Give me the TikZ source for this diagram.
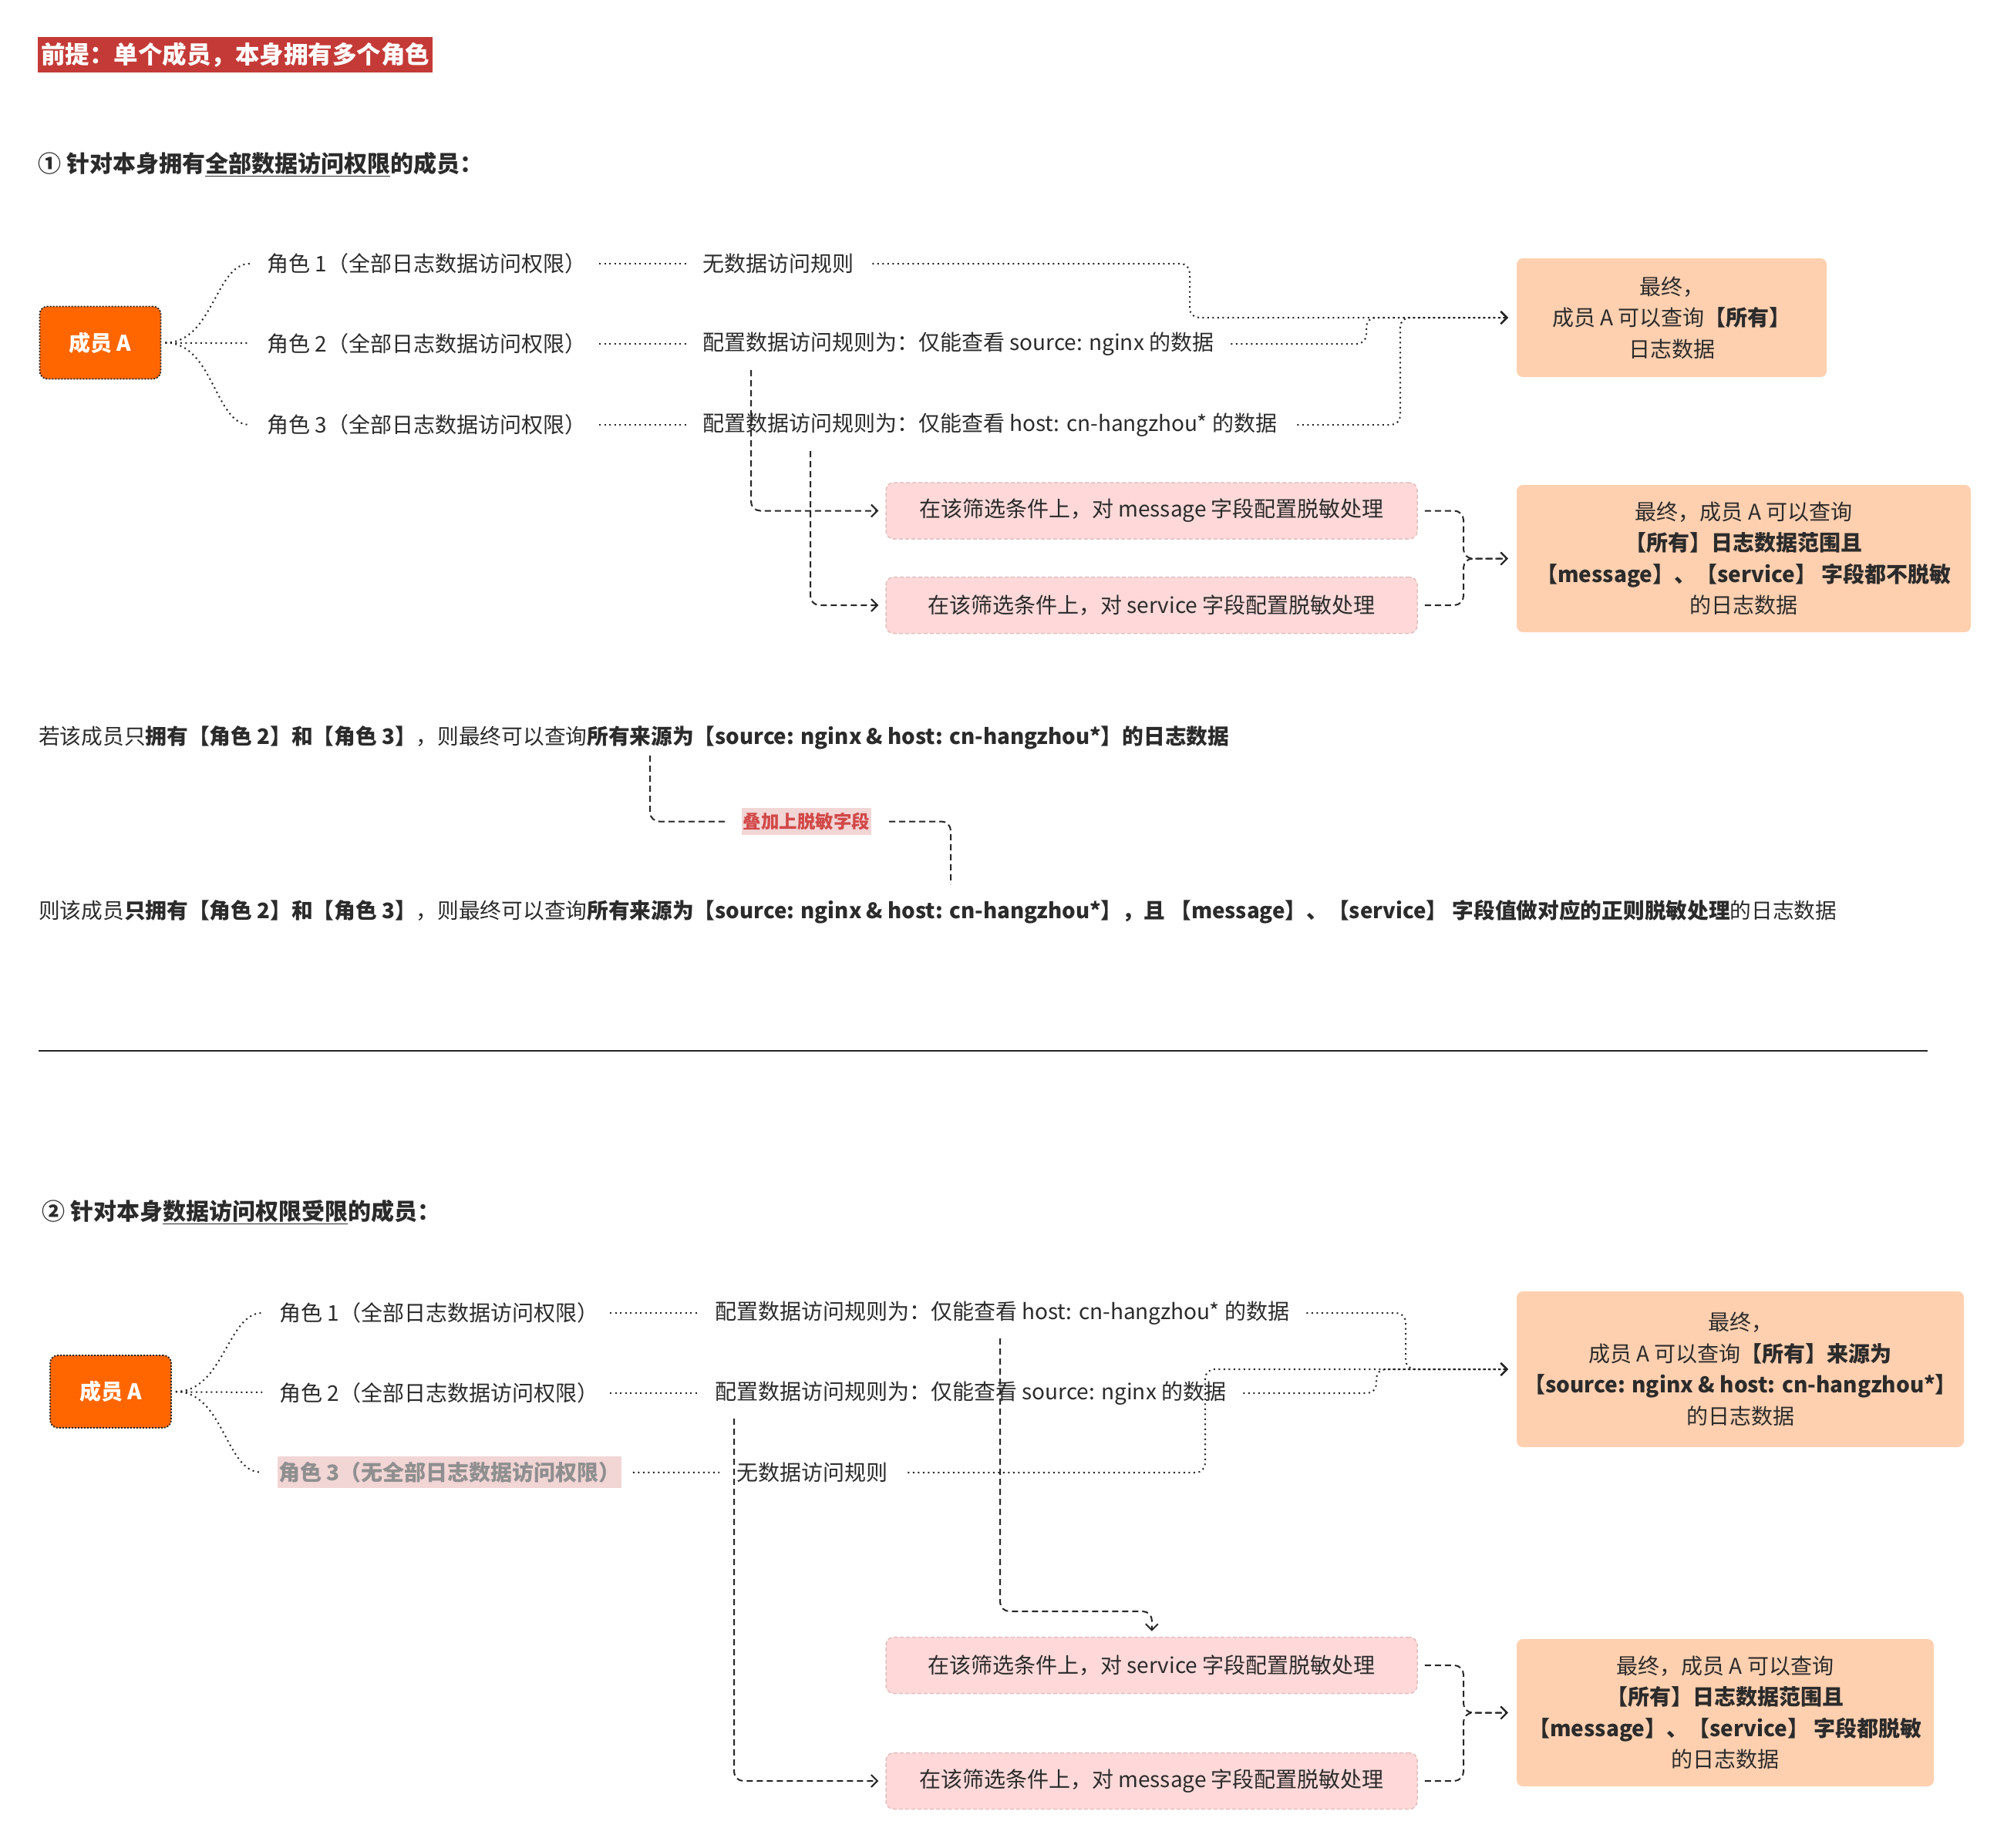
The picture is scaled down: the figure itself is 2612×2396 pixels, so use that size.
\documentclass[tikz,border=0pt]{standalone}
\usepackage{fontspec}
\setmainfont{Noto Sans CJK SC}
\usetikzlibrary{arrows.meta}
\definecolor{textc}{HTML}{2B2B2B}
\definecolor{linec}{HTML}{262626}
\definecolor{titlered}{HTML}{C43A37}
\definecolor{memberor}{HTML}{FF6600}
\definecolor{peach}{HTML}{FFD0B0}
\definecolor{pinkfill}{HTML}{FFD9D9}
\definecolor{pinkdraw}{HTML}{E2BFBF}
\definecolor{lblbg}{HTML}{F2D5D5}
\definecolor{lblfg}{HTML}{D24848}
\definecolor{rolegrey}{HTML}{8F8F8F}
\newcommand{\bodyf}{\fontsize{28}{34}\selectfont}
\newcommand{\linef}{\fontsize{27.7}{34}\selectfont}
\newcommand{\boxf}{\fontsize{28}{40.5}\selectfont}
\begin{document}
\begin{tikzpicture}[x=1pt,y=-1pt,
  txt/.style={anchor=west, inner sep=0pt, text=textc, font=\bodyf},
  linetxt/.style={anchor=west, inner sep=0pt, text=textc, font=\linef},
  headtxt/.style={anchor=west, inner sep=0pt, text=textc, font=\bfseries\fontsize{30}{36}\selectfont},
  titlebox/.style={fill=titlered, text=white, inner sep=0pt, minimum width=512pt, minimum height=46pt, font=\bfseries\fontsize{31.5}{36}\selectfont},
  memberbox/.style={rounded corners=10pt, fill=memberor, draw=linec, dash pattern=on 2pt off 2pt, line width=1.8pt, minimum width=157pt, minimum height=94pt, inner sep=0pt, text=white, font=\bfseries\bodyf},
  finalbox/.style={rounded corners=8pt, fill=peach, align=center, inner sep=0pt, text=textc, font=\boxf},
  pinkbox/.style={rounded corners=10pt, fill=pinkfill, draw=pinkdraw, dash pattern=on 5pt off 3pt, line width=1.5pt, minimum width=689pt, minimum height=73pt, inner sep=0pt, text=textc, font=\bodyf},
  greyrole/.style={anchor=west, fill=lblbg, text=rolegrey, inner xsep=1pt, inner ysep=0pt, minimum height=41pt, font=\bfseries\bodyf},
  lblbox/.style={fill=lblbg, text=lblfg, inner sep=1pt, minimum width=168pt, minimum height=35pt, font=\bfseries\fontsize{23.5}{28}\selectfont},
  dotline/.style={draw=linec, line width=2pt, dash pattern=on 2pt off 4.5pt, rounded corners=12pt},
  dashline/.style={draw=linec, line width=2pt, dash pattern=on 8pt off 5pt, rounded corners=12pt},
  arr/.style={-{Straight Barb[length=8pt,width=16pt,line width=2pt]}}
]
\useasboundingbox (0,0) rectangle (2612,2396);
\fill[white] (0,0) rectangle (2612,2396);

% ---------- title & section 1 ----------
\node[titlebox] (title) at (305,71) {前提：单个成员，本身拥有多个角色};
\node[headtxt] (head1) at (49,213) {① 针对本身拥有\underline{全部数据访问权限}的成员：};

\node[memberbox] (m1) at (130,444.5) {成员 A};
\node[txt] (r11) at (346,342) {角色 1（全部日志数据访问权限）};
\node[txt] (r12) at (346,446) {角色 2（全部日志数据访问权限）};
\node[txt] (r13) at (346,551) {角色 3（全部日志数据访问权限）};
\node[txt] (u11) at (911,342) {无数据访问规则};
\node[txt] (u12) at (911,446) {配置数据访问规则为：仅能查看 source: nginx 的数据};
\node[txt] (u13) at (911,551) {配置数据访问规则为：仅能查看 host: cn-hangzhou* 的数据};

\node[finalbox, minimum width=402pt, minimum height=154pt] (f1) at (2168,412) {最终，\\成员 A 可以查询\textbf{【所有】}\\日志数据};
\node[pinkbox] (p1) at (1493.5,662.5) {在该筛选条件上，对 message 字段配置脱敏处理};
\node[pinkbox] (p2) at (1493.5,785) {在该筛选条件上，对 service 字段配置脱敏处理};
\node[finalbox, minimum width=589pt, minimum height=191pt] (f2) at (2261.5,724.5) {最终，成员 A 可以查询\\\textbf{【所有】日志数据范围且}\\\textbf{【message】、【service】 字段都不脱敏}\\的日志数据};

\draw[dotline, shorten <=5pt, shorten >=22pt] (m1) to[out=0,in=180] (r11);
\draw[dotline, shorten <=5pt, shorten >=22pt] (m1) -- (r12);
\draw[dotline, shorten <=5pt, shorten >=22pt] (m1) to[out=0,in=180] (r13);
\draw[dotline, shorten <=17pt, shorten >=20pt] (r11) -- (u11);
\draw[dotline, shorten <=17pt, shorten >=20pt] (r12) -- (u12);
\draw[dotline, shorten <=17pt, shorten >=20pt] (r13) -- (u13);

\coordinate (j1) at (1543,412);
\coordinate (j2) at (1772,412);
\coordinate (j3) at (1816,412);
\draw[dotline, arr, shorten <=24pt, shorten >=11pt] (u11) -| (j1) -- (f1);
\draw[dotline, arr, shorten <=22pt, shorten >=11pt] (u12) -| (j2) -- (f1);
\draw[dotline, arr, shorten <=26pt, shorten >=11pt] (u13) -| (j3) -- (f1);

\coordinate (s1) at (974,480);
\coordinate (s2) at (1051,585);
\draw[dashline, arr, shorten >=9pt] (s1) |- (p1);
\draw[dashline, arr, shorten >=9pt] (s2) |- (p2);

\coordinate (k1) at (1898,724.5);
\draw[dashline, arr, shorten <=9pt, shorten >=11pt] (p1) -| (k1) -- (f2);
\draw[dashline, arr, shorten <=9pt, shorten >=11pt] (p2) -| (k1) -- (f2);

% ---------- summary lines ----------
\node[linetxt] (line1) at (50,957) {若该成员只\textbf{拥有【角色 2】和【角色 3】}，则最终可以查询\textbf{所有来源为【source: nginx \& host: cn-hangzhou*】的日志数据}};
\node[lblbox] (lbl) at (1046,1065.5) {叠加上脱敏字段};
\node[linetxt] (line2) at (50,1183) {则该成员\textbf{只拥有【角色 2】和【角色 3】}，则最终可以查询\textbf{所有来源为【source: nginx \& host: cn-hangzhou*】，且 【message】、【service】 字段值做对应的正则脱敏处理}的日志数据};
\coordinate (t1) at (843,980);
\coordinate (t2) at (1233,1147);
\draw[dashline, shorten >=20pt] (t1) |- (lbl);
\draw[dashline, shorten <=23pt] (lbl) -| (t2);

\coordinate (sep1) at (50,1363);
\coordinate (sep2) at (2500,1363);
\draw[line width=1.8pt, linec] (sep1) -- (sep2);

% ---------- section 2 ----------
\node[headtxt] (head2) at (54,1572) {② 针对本身\underline{数据访问权限受限}的成员：};

\node[memberbox] (m2) at (143.5,1805) {成员 A};
\node[txt] (r21) at (362,1703) {角色 1（全部日志数据访问权限）};
\node[txt] (r22) at (362,1807) {角色 2（全部日志数据访问权限）};
\node[greyrole] (r23) at (360,1909.5) {角色 3（无全部日志数据访问权限）};
\node[txt] (u21) at (927,1703) {配置数据访问规则为：仅能查看 host: cn-hangzhou* 的数据};
\node[txt] (u22) at (927,1807) {配置数据访问规则为：仅能查看 source: nginx 的数据};
\node[txt] (u23) at (955,1910) {无数据访问规则};

\node[finalbox, minimum width=580pt, minimum height=202pt] (f3) at (2257,1776) {最终，\\成员 A 可以查询\textbf{【所有】来源为}\\\textbf{【source: nginx \& host: cn-hangzhou*】}\\的日志数据};
\node[pinkbox] (p3) at (1493.5,2160) {在该筛选条件上，对 service 字段配置脱敏处理};
\node[pinkbox] (p4) at (1493.5,2310) {在该筛选条件上，对 message 字段配置脱敏处理};
\node[finalbox, minimum width=541pt, minimum height=191pt] (f4) at (2237.5,2221.5) {最终，成员 A 可以查询\\\textbf{【所有】日志数据范围且}\\\textbf{【message】、【service】 字段都脱敏}\\的日志数据};

\draw[dotline, shorten <=5pt, shorten >=22pt] (m2) to[out=0,in=180] (r21);
\draw[dotline, shorten <=5pt, shorten >=22pt] (m2) -- (r22);
\draw[dotline, shorten <=5pt, shorten >=22pt] (m2) to[out=0,in=180] (r23);
\draw[dotline, shorten <=15pt, shorten >=22pt] (r21) -- (u21);
\draw[dotline, shorten <=15pt, shorten >=22pt] (r22) -- (u22);
\draw[dotline, shorten <=15pt, shorten >=22pt] (r23) -- (u23);

\coordinate (q1) at (1823,1776);
\coordinate (q2) at (1785,1776);
\coordinate (q3) at (1563,1776);
\draw[dotline, arr, shorten <=22pt, shorten >=11pt] (u21) -| (q1) -- (f3);
\draw[dotline, arr, shorten <=22pt, shorten >=11pt] (u22) -| (q2) -- (f3);
\draw[dotline, arr, shorten <=26pt, shorten >=11pt] (u23) -| (q3) -- (f3);

\coordinate (s3) at (1297,1736);
\coordinate (k3) at (1494,2090);
\coordinate (s4) at (952,1840);
\draw[dashline, arr, shorten >=7pt] (s3) |- (k3) -- (p3);
\draw[dashline, arr, shorten >=9pt] (s4) |- (p4);

\coordinate (k4) at (1898,2221.5);
\draw[dashline, arr, shorten <=9pt, shorten >=11pt] (p3) -| (k4) -- (f4);
\draw[dashline, arr, shorten <=9pt, shorten >=11pt] (p4) -| (k4) -- (f4);
\end{tikzpicture}
\end{document}
